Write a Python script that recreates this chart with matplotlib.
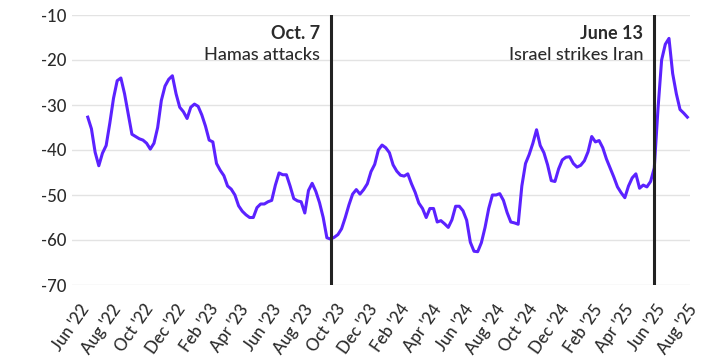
import matplotlib
matplotlib.use("Agg")
import matplotlib.pyplot as plt
import matplotlib.transforms as mtransforms
import pandas as pd
import numpy as np

# Weekly readings starting 2022-07-01
start_date = "2022-07-01"
values = [
    -32.7, -35.3, -40.5, -43.5, -40.7, -39.0, -34.0, -28.5, -24.6, -24.0,
    -27.5, -32.0, -36.5, -37.0, -37.5, -37.8, -38.5, -39.8, -38.5, -35.0,
    -29.0, -25.8, -24.3, -23.5, -27.5, -30.5, -31.5, -33.0, -30.5, -29.8,
    -30.3, -32.2, -34.7, -37.8, -38.2, -43.0, -44.5, -45.7, -48.0, -48.7,
    -50.0, -52.4, -53.6, -54.4, -55.0, -55.0, -52.8, -52.0, -52.0, -51.5,
    -51.2, -47.8, -45.1, -45.5, -45.5, -48.0, -50.8, -51.3, -51.5, -54.0,
    -49.0, -47.4, -49.2, -51.7, -55.0, -59.5, -59.8, -59.4, -58.8, -57.5,
    -55.0, -52.2, -49.8, -48.8, -49.8, -48.8, -47.5, -44.8, -43.2, -40.0,
    -38.9, -39.5, -40.6, -43.3, -44.7, -45.6, -45.8, -45.3, -47.5, -49.4,
    -51.8, -53.0, -55.0, -53.0, -53.0, -56.0, -55.7, -56.4, -57.2, -55.5,
    -52.5, -52.5, -53.5, -55.6, -60.5, -62.5, -62.6, -60.6, -57.2, -53.0,
    -50.0, -50.0, -49.7, -51.2, -53.9, -56.0, -56.2, -56.5, -48.0, -43.0,
    -41.0, -38.5, -35.5, -39.0, -40.6, -43.3, -46.8, -47.0, -44.2, -42.2,
    -41.6, -41.5, -43.0, -43.8, -43.4, -42.4, -40.4, -37.0, -38.2, -37.9,
    -39.5, -42.0, -44.0, -46.0, -48.2, -49.5, -50.6, -48.0, -46.2, -45.3,
    -48.5, -47.8, -48.2, -47.0, -44.0, -31.0, -20.0, -16.5, -15.2, -23.0,
    -27.5, -31.0, -31.8, -32.7,
]
dates = pd.date_range(start_date, periods=len(values), freq="7D")

event_dates = ["2023-10-07", "2025-06-13"]
event_titles = ["Oct. 7", "June 13"]
event_subtitles = ["Hamas attacks", "Israel strikes Iran"]

tick_dates = pd.date_range("2022-06-01", "2025-08-01", freq="2MS")
tick_labels = [d.strftime("%b '%y") for d in tick_dates]
y_ticks = [-70, -60, -50, -40, -30, -20, -10]

plt.rcParams["font.family"] = ["Lato", "DejaVu Sans"]

fig = plt.figure(figsize=(7.2, 3.6), dpi=100)
ax = fig.add_axes([72 / 720, 1 - 285 / 360, (690 - 72) / 720, 270 / 360])

line_color = "#5B22FF"
text_color = "#2b2b2b"

ax.plot(dates, values, color=line_color, lw=2.2, solid_joinstyle="round", zorder=3)

for d in event_dates:
    ax.axvline(pd.Timestamp(d), color="#222222", lw=2.2, zorder=4)

for d, t, s in zip(event_dates, event_titles, event_subtitles):
    x = pd.Timestamp(d)
    off = mtransforms.offset_copy(ax.transData, fig=fig, x=-11, y=0, units="dots")
    ax.text(x, -14.2, t, transform=off, ha="right", va="center",
            fontsize=13, fontweight="bold", color=text_color)
    ax.text(x, -18.8, s, transform=off, ha="right", va="center",
            fontsize=13, fontweight="medium", color=text_color)

ax.set_ylim(-70, -10)
ax.set_xlim(pd.Timestamp("2022-06-04"), pd.Timestamp("2025-08-20"))
ax.set_yticks(y_ticks)
ax.set_yticklabels([str(v) for v in y_ticks])
ax.grid(axis="y", color="#e3e3e3", lw=1.0)
ax.set_axisbelow(True)
for sp in ax.spines.values():
    sp.set_visible(False)

ax.tick_params(axis="y", length=0, pad=4, labelsize=12, labelcolor=text_color)
ax.set_xticks(tick_dates)
ax.set_xticklabels(tick_labels)
ax.tick_params(axis="x", length=0, pad=0, labelsize=12, labelcolor=text_color)
shift = mtransforms.ScaledTranslation(14 / 100, -21 / 100, fig.dpi_scale_trans)
for lab in ax.get_xticklabels() + ax.get_yticklabels():
    lab.set_fontweight("medium")
for lab in ax.get_xticklabels():
    lab.set_rotation(55)
    lab.set_rotation_mode("anchor")
    lab.set_ha("right")
    lab.set_va("center")
    lab.set_transform(lab.get_transform() + shift)

fig.savefig("out.png", dpi=100, facecolor="white")
